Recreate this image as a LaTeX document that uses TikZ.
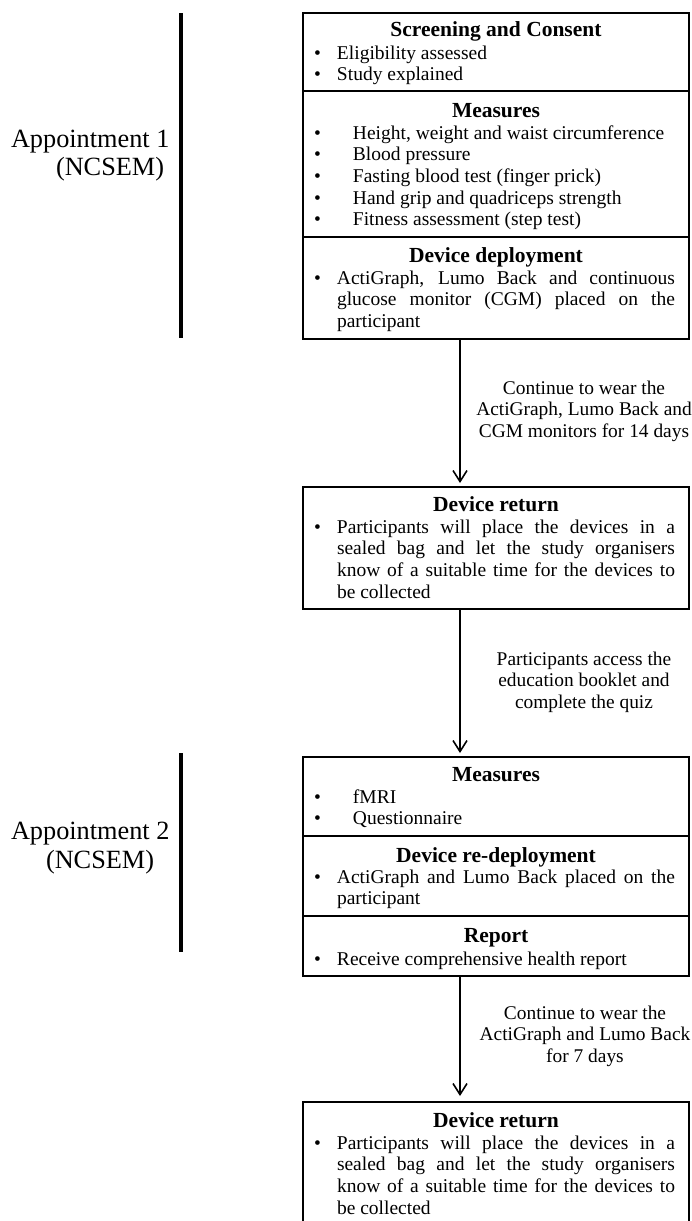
\documentclass[tikz,border=0pt]{standalone}
\usepackage{fontspec}
\setmainfont{Liberation Serif}
\usetikzlibrary{arrows.meta}
\newcommand\bodyfont{\fontsize{19.5}{21.7}\selectfont}
\newcommand\headfont{\fontsize{21.5}{21.7}\selectfont\bfseries}
\newcommand\sidefont{\fontsize{26.3}{28}\selectfont}
\newcommand\lblfont{\fontsize{19.4}{21.5}\selectfont}
\newcommand\bul{\makebox[23pt][l]{\textbullet}}
\newcommand\bulM{\makebox[39pt][l]{\textbullet}}
\newcommand\hang{\hangindent=23pt\hangafter=1\relax}
\begin{document}
\begin{tikzpicture}[x=1pt,y=-1pt,
  sec/.style={draw, line width=1.8pt, inner sep=0pt, outer sep=0pt, minimum width=386pt, anchor=north west},
  hd/.style={inner sep=0pt, outer sep=0pt, font=\headfont, anchor=base},
  bodytxt/.style={inner sep=0pt, outer sep=0pt, font=\bodyfont, anchor=base west, text width=361pt, align=justify},
  lbl/.style={inner sep=0pt, outer sep=0pt, font=\lblfont, anchor=base, align=center},
  side/.style={inner sep=0pt, outer sep=0pt, font=\sidefont, anchor=base west},
  arr/.style={line width=1.6pt, -{Straight Barb[length=11pt,width=14pt,line width=1.6pt]}},
  bar/.style={line width=4.2pt}]
\useasboundingbox (0,0) rectangle (691,1221);
\clip (0,0) rectangle (691,1221);
% side bars and labels
\draw[bar] (181,13) -- (181,338);
\draw[bar] (181,753) -- (181,952);
\node[side] (ap1) at (11,147) {Appointment 1};
\node[side] (ap1n) at (56,175) {(NCSEM)};
\node[side] (ap2) at (11,839) {Appointment 2};
\node[side] (ap2n) at (46,868) {(NCSEM)};
% boxes
\node[sec, minimum height=78pt] (sc) at (303,13) {};
\node[sec, minimum height=146pt] (ms) at (303,91) {};
\node[sec, minimum height=102pt] (dd) at (303,237) {};
\node[sec, minimum height=122pt] (dr1) at (303,487) {};
\node[sec, minimum height=79pt] (ms2) at (303,757) {};
\node[sec, minimum height=80pt] (rd) at (303,836) {};
\node[sec, minimum height=60pt] (rp) at (303,916) {};
\node[sec, minimum height=150pt] (dr2) at (303,1102) {};
% headings
\node[hd] (scH) at (496,36) {Screening and Consent};
\node[hd] (msH) at (496,117) {Measures};
\node[hd] (ddH) at (496,262) {Device deployment};
\node[hd] (dr1H) at (496,511) {Device return};
\node[hd] (ms2H) at (496,781) {Measures};
\node[hd] (rdH) at (496,862) {Device re-deployment};
\node[hd] (rpH) at (496,942) {Report};
\node[hd] (dr2H) at (496,1127) {Device return};
% bodies
\node[bodytxt] (scB) at (314,59) {\bul Eligibility assessed\par\bul Study explained};
\node[bodytxt] (msB) at (314,139) {\bulM Height, weight and waist circumference\par
  \bulM Blood pressure\par\bulM Fasting blood test (finger prick)\par
  \bulM Hand grip and quadriceps strength\par\bulM Fitness assessment (step test)};
\node[bodytxt] (ddB) at (314,284) {\bul\hang ActiGraph, Lumo Back and continuous\linebreak glucose monitor (CGM) placed on the\linebreak participant\par};
\node[bodytxt] (dr1B) at (314,533) {\bul\hang Participants will place the devices in a\linebreak sealed bag and let the study organisers\linebreak know of a suitable time for the devices to\linebreak be collected\par};
\node[bodytxt] (ms2B) at (314,803) {\bulM fMRI\par\bulM Questionnaire};
\node[bodytxt] (rdB) at (314,883) {\bul\hang ActiGraph and Lumo Back placed on the\linebreak participant\par};
\node[bodytxt] (rpB) at (314,965) {\bul Receive comprehensive health report};
\node[bodytxt] (dr2B) at (314,1149) {\bul\hang Participants will place the devices in a\linebreak sealed bag and let the study organisers\linebreak know of a suitable time for the devices to\linebreak be collected\par};
% arrows
\coordinate (ax) at (460,0);
\draw[arr, shorten >=4pt] (dd.south -| ax) -- (dr1.north -| ax);
\draw[arr, shorten >=4pt] (dr1.south -| ax) -- (ms2.north -| ax);
\draw[arr, shorten >=6pt] (rp.south -| ax) -- (dr2.north -| ax);
% arrow labels (base = last line)
\node[lbl] (l1) at (584,437) {Continue to wear the\\ActiGraph, Lumo Back and\\CGM monitors for 14 days};
\node[lbl] (l2) at (584,708) {Participants access the\\education booklet and\\complete the quiz};
\node[lbl] (l3) at (585,1062) {Continue to wear the\\ActiGraph and Lumo Back\\for 7 days};
\end{tikzpicture}
\end{document}
